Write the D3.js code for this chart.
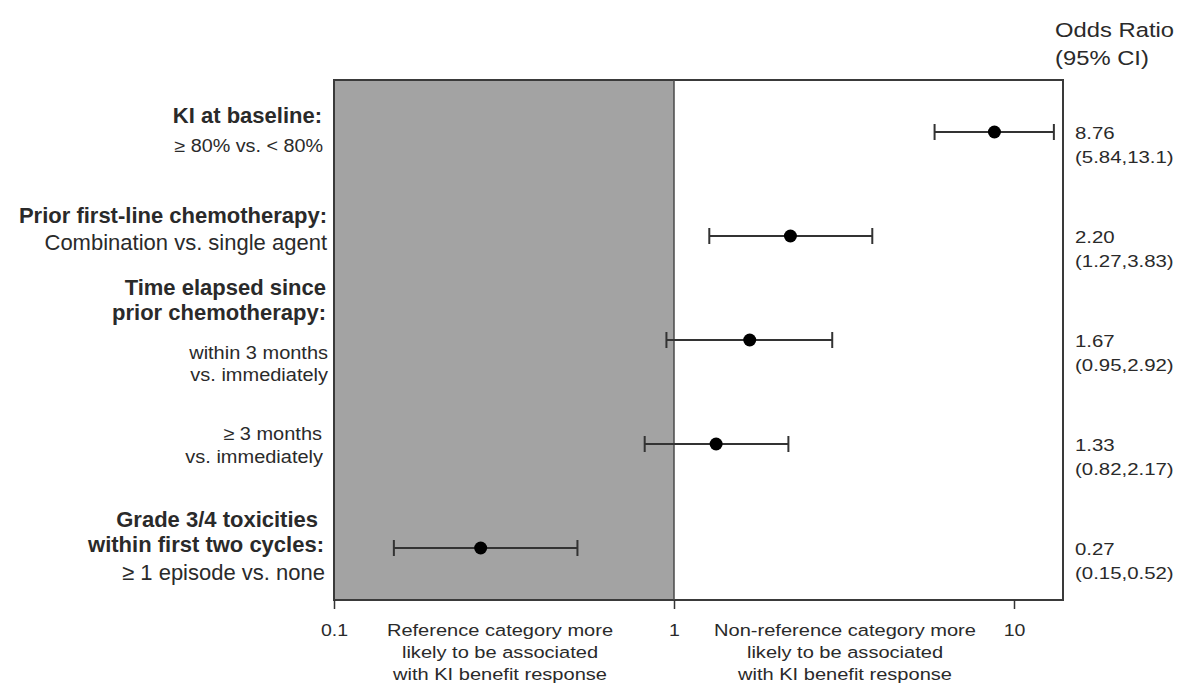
<!DOCTYPE html>
<html>
<head>
<meta charset="utf-8">
<script src="https://cdn.jsdelivr.net/npm/d3@7"></script>
<style>
  body { margin: 0; background: #fff; }
  text { font-family: Arial, "Liberation Sans", sans-serif; fill: #2a2a2a; }
</style>
</head>
<body>
<div id="chart"></div>
<script>
// odds ratios with 95% CI, top to bottom
var rows = ['ki', 'prior', 'within3', 'over3', 'tox'];
var oddsRatio = [8.76, 2.20, 1.67, 1.33, 0.27];
var ciLow = [5.84, 1.27, 0.95, 0.82, 0.15];
var ciHigh = [13.1, 3.83, 2.92, 2.17, 0.52];
var orText = ['8.76', '2.20', '1.67', '1.33', '0.27'];
var ciText = ['(5.84,13.1)', '(1.27,3.83)', '(0.95,2.92)', '(0.82,2.17)', '(0.15,0.52)'];
var xTicks = [0.1, 1, 10];

var W = 1200, H = 694;
var margin = { top: 80, right: 137, bottom: 94, left: 334 },
    width = W - margin.left - margin.right,
    height = H - margin.top - margin.bottom;

var svg = d3.select('#chart').append('svg')
    .attr('width', W)
    .attr('height', H);

// text helper: the source image has horizontally stretched lettering
function label(x, y, txt, size, opts) {
  opts = opts || {};
  return svg.append('text')
      .attr('transform', 'translate(' + x + ',' + y + ') scale(' + (opts.sx || 1) + ',1)')
      .attr('text-anchor', opts.anchor || 'start')
      .style('font-size', size + 'px')
      .style('font-weight', opts.bold ? 'bold' : 'normal')
      .text(txt);
}

var g = svg.append('g')
    .attr('transform', 'translate(' + margin.left + ',' + margin.top + ')');

// log scale: 0.1 at left edge, one decade = 340px
var x = d3.scaleLog()
    .domain([0.1, Math.pow(10, 1 + 49 / 340)])
    .range([0, width]);

var y = d3.scalePoint()
    .domain(rows)
    .range([52, 468]);

// shaded reference half
g.append('rect')
    .attr('x', 0).attr('y', 0)
    .attr('width', x(1)).attr('height', height)
    .attr('fill', '#a3a3a3');

g.append('rect')
    .attr('x', 0).attr('y', 0)
    .attr('width', width).attr('height', height)
    .attr('fill', 'none')
    .attr('stroke', '#3a3a3a')
    .attr('stroke-width', 2);

g.append('line')
    .attr('x1', x(1)).attr('x2', x(1))
    .attr('y1', 0).attr('y2', height)
    .attr('stroke', '#4a4a4a').attr('stroke-width', 1.5);

// x axis
var xAxis = g.append('g')
    .attr('transform', 'translate(0,' + height + ')')
    .call(d3.axisBottom(x).tickValues(xTicks).tickFormat(d3.format('')).tickSize(9));
xAxis.select('.domain').remove();
xAxis.selectAll('line').attr('stroke', '#333').attr('stroke-width', 1.5);
xAxis.selectAll('text')
    .attr('y', 0).attr('dy', 0)
    .attr('transform', 'translate(0,36) scale(1.15,1)')
    .style('font-size', '17px')
    .attr('fill', '#333');

// error bars
var bars = g.selectAll('.bar')
    .data(rows)
    .enter().append('g')
    .attr('class', 'bar');

bars.append('line')
    .attr('x1', function(d, i) { return x(ciLow[i]); })
    .attr('x2', function(d, i) { return x(ciHigh[i]); })
    .attr('y1', function(d) { return y(d); })
    .attr('y2', function(d) { return y(d); })
    .attr('stroke', '#333').attr('stroke-width', 2);

[ciLow, ciHigh].forEach(function(arr) {
  bars.append('line')
      .attr('x1', function(d, i) { return x(arr[i]); })
      .attr('x2', function(d, i) { return x(arr[i]); })
      .attr('y1', function(d) { return y(d) - 8; })
      .attr('y2', function(d) { return y(d) + 8; })
      .attr('stroke', '#333').attr('stroke-width', 2);
});

bars.append('circle')
    .attr('cx', function(d, i) { return x(oddsRatio[i]); })
    .attr('cy', function(d) { return y(d); })
    .attr('r', 6.5)
    .attr('fill', '#000');

// right column
label(1055, 37, 'Odds Ratio', 19.5, { sx: 1.22 });
label(1055, 65, '(95% CI)', 19.5, { sx: 1.22 });

rows.forEach(function(r, i) {
  var cy = margin.top + y(r);
  label(1075, cy + 7, orText[i], 17, { sx: 1.2 });
  label(1075, cy + 31, ciText[i], 17, { sx: 1.2 });
});

// left labels: text, baseline, size, bold, right edge, x-stretch
var leftLabels = [
  ['KI at baseline:', 123, 22, true, 322, 1],
  ['\u2265 80% vs. < 80%', 152, 17.5, false, 323, 1.13],
  ['Prior first-line chemotherapy:', 223, 22, true, 327, 1],
  ['Combination vs. single agent', 250, 22, false, 327, 1],
  ['Time elapsed since', 295, 22, true, 326, 1],
  ['prior chemotherapy:', 320, 22, true, 326, 1],
  ['within 3 months', 359, 18.5, false, 328, 1.08],
  ['vs. immediately', 381, 18.5, false, 328, 1.08],
  ['\u2265  3 months', 440, 18.5, false, 322, 1.08],
  ['vs. immediately', 463, 18.5, false, 323, 1.08],
  ['Grade 3/4 toxicities', 527, 22, true, 318, 1],
  ['within first two cycles:', 552, 22, true, 324, 1],
  ['\u2265 1 episode vs. none', 580, 22, false, 325, 1]
];
leftLabels.forEach(function(d) {
  label(d[4], d[1], d[0], d[2], { bold: d[3], anchor: 'end', sx: d[5] });
});

// bottom captions
var captions = [
  [500, ['Reference category more', 'likely to be associated', 'with KI benefit response']],
  [845, ['Non-reference category more', 'likely to be associated', 'with KI benefit response']]
];
captions.forEach(function(c) {
  c[1].forEach(function(t, j) {
    label(c[0], 636 + j * 22, t, 17, { anchor: 'middle', sx: 1.18 });
  });
});
</script>
</body>
</html>
